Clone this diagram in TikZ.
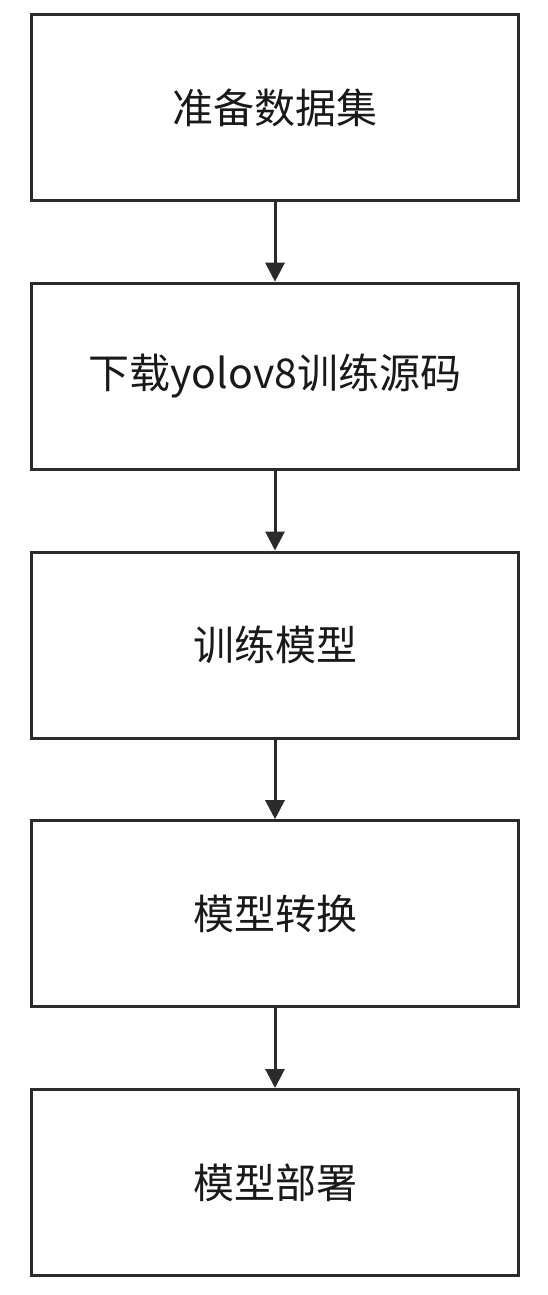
\documentclass[tikz,border=0pt]{standalone}
\usepackage{fontspec}
\newfontfamily\cjk{Noto Sans CJK SC}
\usetikzlibrary{arrows.meta}
\definecolor{lc}{HTML}{2B2B2B}
\newcommand{\lowtxt}[1]{\raisebox{-3pt}{#1}}
\begin{document}
\begin{tikzpicture}[x=1pt,y=-1pt,
  stepbox/.style={draw=lc,line width=3pt,minimum width=487pt,minimum height=186pt,inner sep=0pt,font=\cjk\fontsize{41}{46}\selectfont,text=black!90},
  conn/.style={draw=lc,line width=3pt,-{Triangle[length=19pt,width=19pt]}}]
\useasboundingbox (0,0) rectangle (547,1295);
\node[stepbox] (s1) at (275,107.5) {\lowtxt{准备数据集}};
\node[stepbox] (s2) at (275,376.2) {\lowtxt{下载yolov8训练源码}};
\node[stepbox] (s3) at (275,645) {\lowtxt{训练模型}};
\node[stepbox] (s4) at (275,913.7) {\lowtxt{模型转换}};
\node[stepbox] (s5) at (275,1182.5) {\lowtxt{模型部署}};
\draw[conn] (s1) -- (s2);
\draw[conn] (s2) -- (s3);
\draw[conn] (s3) -- (s4);
\draw[conn] (s4) -- (s5);
\end{tikzpicture}
\end{document}
